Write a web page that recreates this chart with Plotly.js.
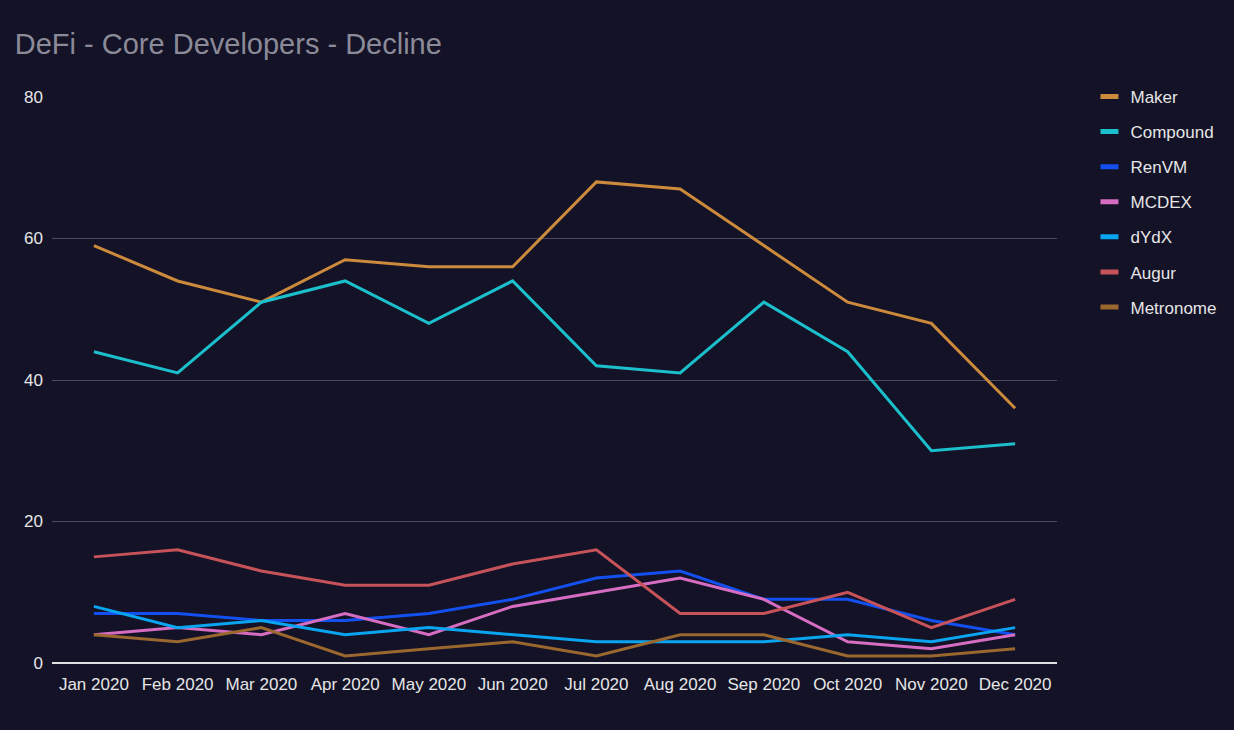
<!DOCTYPE html>
<html>
<head>
<meta charset="utf-8">
<script src="https://cdn.plot.ly/plotly-3.0.1.min.js"></script>
<style>html,body{margin:0;padding:0;background:#131226;}#chart{width:1234px;height:730px;}</style>
</head>
<body>
<div id="chart"></div>
<script>
const months = ["Jan 2020","Feb 2020","Mar 2020","Apr 2020","May 2020","Jun 2020","Jul 2020","Aug 2020","Sep 2020","Oct 2020","Nov 2020","Dec 2020"];
const maker     = [59, 54, 51, 57, 56, 56, 68, 67, 59, 51, 48, 36];
const compound  = [44, 41, 51, 54, 48, 54, 42, 41, 51, 44, 30, 31];
const renvm     = [7, 7, 6, 6, 7, 9, 12, 13, 9, 9, 6, 4];
const mcdex     = [4, 5, 4, 7, 4, 8, 10, 12, 9, 3, 2, 4];
const dydx      = [8, 5, 6, 4, 5, 4, 3, 3, 3, 4, 3, 5];
const augur     = [15, 16, 13, 11, 11, 14, 16, 7, 7, 10, 5, 9];
const metronome = [4, 3, 5, 1, 2, 3, 1, 4, 4, 1, 1, 2];

const seriesNames = ["Maker","Compound","RenVM","MCDEX","dYdX","Augur","Metronome"];
const seriesData = [maker, compound, renvm, mcdex, dydx, augur, metronome];
const colors = ["#cc8a3c","#1cbfcc","#1350ef","#d66dc2","#0aa5f0","#c7535a","#9a682f"];

const traces = seriesNames.map((n, i) => ({
  type: "scatter", mode: "lines", name: n, x: months, y: seriesData[i],
  legendgroup: "g" + i,
  line: {color: colors[i], width: 3}
}));

const layout = {
  width: 1234, height: 730,
  paper_bgcolor: "#131226", plot_bgcolor: "#131226",
  font: {family: "Liberation Sans, Arial, sans-serif", color: "#e6e6e6", size: 17},
  title: {text: "DeFi - Core Developers - Decline", x: 0.012, xanchor: "left", y: 0.94, yanchor: "middle",
          font: {size: 29, color: "#8b8a98"}},
  margin: {l: 52, r: 177, t: 97, b: 67},
  xaxis: {type: "category", range: [-0.5, 11.5], showgrid: false, zeroline: false,
          showline: false, ticks: "", tickfont: {size: 17, color: "#e6e6e6"}, ticklabelstandoff: 9},
  yaxis: {range: [0, 80], tickvals: [0, 20, 40, 60, 80], gridcolor: "#4a4a5c", gridwidth: 1,
          zeroline: true, zerolinecolor: "#e0e0e0", zerolinewidth: 2,
          ticks: "", tickfont: {size: 17, color: "#e6e6e6"}, ticklabelstandoff: 8},
  legend: {x: 1.0333, xanchor: "left", y: 1.032, yanchor: "top", font: {size: 17, color: "#e6e6e6"},
           tracegroupgap: 10, itemwidth: 30, bgcolor: "rgba(0,0,0,0)"},
  showlegend: true
};

Plotly.newPlot("chart", traces, layout, {displayModeBar: false}).then(gd => {
  // make legend symbols short thick bars like the reference
  gd.querySelectorAll(".legend .traces").forEach(t => {
    t.querySelectorAll(".legendlines path").forEach(p => {
      p.setAttribute("d", "M10,0h18");
      p.style.strokeWidth = "5px";
    });
    const txt = t.querySelector("text.legendtext");
    if (txt) txt.setAttribute("x", "40");
  });
});
</script>
</body>
</html>
